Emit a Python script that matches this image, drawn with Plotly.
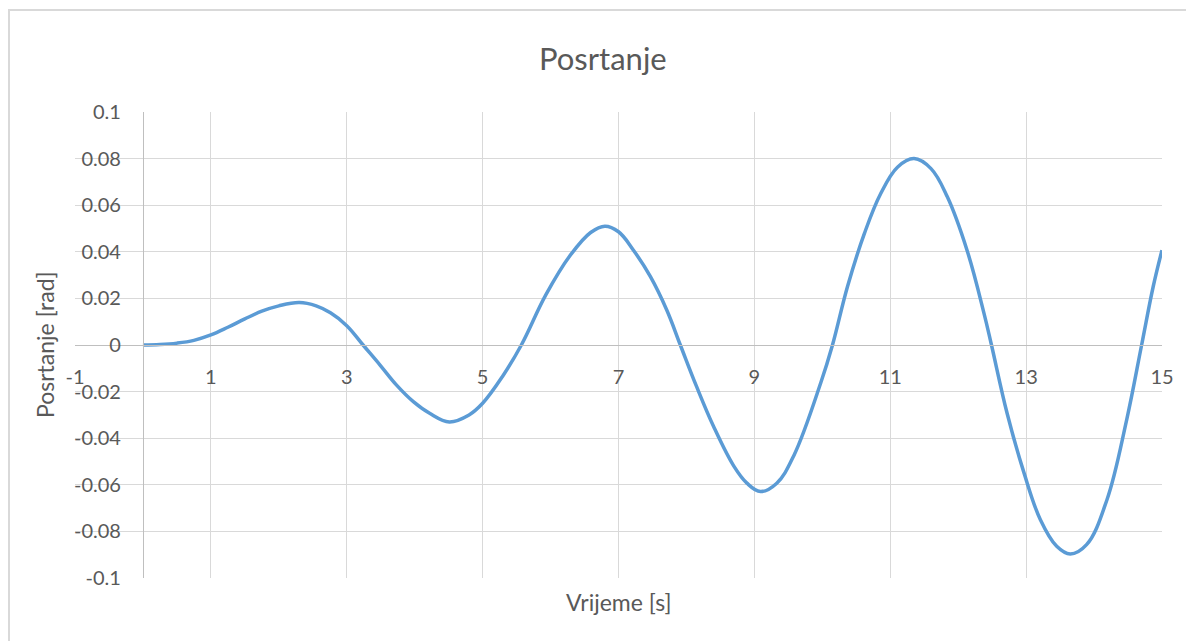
import plotly.graph_objects as go

# Data
time_s = [0, 0.25, 0.5, 0.75, 1.0, 1.25, 1.5, 1.75, 2.0, 2.3, 2.55, 2.76, 3.0, 3.24,
          3.49, 3.73, 3.98, 4.22, 4.51, 4.8, 5.0, 5.29, 5.57, 5.93, 6.29, 6.59, 6.8,
          7.0, 7.22, 7.47, 7.71, 7.91, 8.15, 8.4, 8.7, 8.89, 9.09, 9.33, 9.58,
          9.98, 10.15, 10.37, 10.62, 10.86, 11.11, 11.35, 11.6, 11.84, 12.13, 12.38,
          12.49, 12.72, 12.97, 13.21, 13.45, 13.65, 13.89, 14.19, 14.48, 14.7, 14.87, 15.0]
pitch_rad = [0.0, 0.0002, 0.0008, 0.0020, 0.0043, 0.0076, 0.0112, 0.0145, 0.0168, 0.0182,
             0.0168, 0.0138, 0.0083, 0.0, -0.0086, -0.0171, -0.0243, -0.0293, -0.0330,
             -0.0300, -0.0250, -0.0136, 0.0, 0.0215, 0.0385, 0.0483, 0.0510, 0.0486,
             0.0407, 0.0293, 0.0150, 0.0, -0.0179, -0.0350, -0.0521, -0.0593, -0.0629,
             -0.0593, -0.0475, -0.0160, 0.0, 0.0250, 0.0479, 0.0650, 0.0764,
             0.0800, 0.0757, 0.0636, 0.0407, 0.0136, 0.0, -0.0293, -0.0550, -0.0750,
             -0.0864, -0.0897, -0.0857, -0.0664, -0.0321, 0.0, 0.0250, 0.0407]

x_ticks = [-1, 1, 3, 5, 7, 9, 11, 13, 15]
y_ticks = [-0.1, -0.08, -0.06, -0.04, -0.02, 0, 0.02, 0.04, 0.06, 0.08, 0.1]
y_tick_text = ["-0.1", "-0.08", "-0.06", "-0.04", "-0.02", "0", "0.02", "0.04", "0.06", "0.08", "0.1"]

title_text = "Posrtanje"
x_title = "Vrijeme [s]"
y_title = "Posrtanje [rad]"

FONT = "Lato, 'Open Sans', sans-serif"
TXT = "#595959"
GRID = "#D9D9D9"

# plot-area position in page pixels (page has an 8px body margin)
PL, PR, PT, PB = 75, 1162, 112, 578
PW, PH = PR - PL, PB - PT


def px_x(p):
    return (p - PL) / PW


def px_y(p):
    return (PB - p) / PH


fig = go.Figure()
fig.add_trace(go.Scatter(
    x=time_s, y=pitch_rad, mode="lines",
    line=dict(color="#5B9BD5", width=3.5, shape="spline", smoothing=1.1),
    hoverinfo="x+y", showlegend=False,
))

fig.update_layout(
    width=1186, height=633,
    margin=dict(l=PL - 8, r=32, t=PT - 8, b=63, pad=0),
    paper_bgcolor="white", plot_bgcolor="white",
    font=dict(family=FONT, color=TXT),
    xaxis=dict(
        range=[-1, 15], tickvals=x_ticks, ticktext=[str(v) for v in x_ticks],
        showgrid=True, gridcolor=GRID, gridwidth=1,
        zeroline=False, showline=True, linecolor="#BFBFBF", linewidth=1,
        anchor="free", position=0.5,
        ticks="outside", ticklen=14, tickcolor="rgba(0,0,0,0)",
        tickfont=dict(size=20, color=TXT, family=FONT),
        fixedrange=True,
    ),
    yaxis=dict(
        range=[-0.1, 0.1], tickvals=y_ticks, ticktext=y_tick_text,
        showgrid=True, gridcolor=GRID, gridwidth=1,
        zeroline=False, showline=True, linecolor="#BFBFBF", linewidth=1,
        anchor="free", position=1 / 16,
        ticks="outside", ticklen=18, tickcolor="rgba(0,0,0,0)",
        tickfont=dict(size=20, color=TXT, family=FONT),
        fixedrange=True,
    ),
    annotations=[
        dict(text=title_text, x=px_x(603), y=px_y(58), xref="paper", yref="paper",
             showarrow=False, font=dict(size=31, color=TXT, family=FONT),
             xanchor="center", yanchor="middle"),
        dict(text=x_title, x=px_x(618), y=px_y(602), xref="paper", yref="paper",
             showarrow=False, font=dict(size=23, color=TXT, family=FONT),
             xanchor="center", yanchor="middle"),
        dict(text=y_title, x=px_x(45), y=0.5, xref="paper", yref="paper",
             showarrow=False, textangle=-90, font=dict(size=23, color=TXT, family=FONT),
             xanchor="center", yanchor="middle"),
    ],
    shapes=[
        dict(type="rect", xref="paper", yref="paper",
             x0=px_x(9), x1=px_x(1260), y0=px_y(700), y1=px_y(10),
             line=dict(color=GRID, width=2), fillcolor="rgba(0,0,0,0)", layer="below"),
    ],
)

fig.write_html("out.html")
